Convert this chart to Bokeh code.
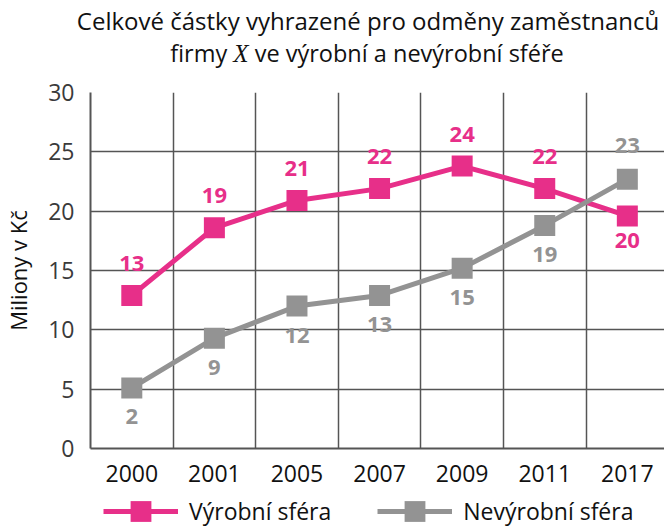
from bokeh.plotting import figure
from bokeh.models import Range1d, FixedTicker, Legend, LegendItem, ColumnDataSource, Div
from bokeh.layouts import column
from bokeh.embed import file_html
from bokeh.resources import INLINE
from bokeh.core.properties import value

years = ["2000", "2001", "2005", "2007", "2009", "2011", "2017"]
vyrobni = [12.9, 18.6, 20.9, 21.9, 23.8, 21.9, 19.6]
vyrobni_labels = ["13", "19", "21", "22", "24", "22", "20"]
nevyrobni = [5.1, 9.3, 12.0, 12.9, 15.2, 18.8, 22.7]
nevyrobni_labels = ["2", "9", "12", "13", "15", "19", "23"]
y_ticks = [0, 5, 10, 15, 20, 25, 30]
series_names = ["Výrobní sféra", "Nevýrobní sféra"]

PINK = "#e72f89"
GRAY = "#939393"
GRID = "#555555"
FONT = "Open Sans"
TITLE_H = 70
MAIN_H = 422
LEG_H = 526 - TITLE_H - MAIN_H

idx = list(range(len(years)))

title = Div(
    text=(
        '<div style="position:relative;width:664px;height:70px;font-family:\'Open Sans\';'
        'line-height:32px;color:#111;white-space:nowrap;">'
        '<div style="position:absolute;left:68px;top:5px;width:600px;text-align:center;font-size:24px;">'
        'Celkové částky vyhrazené pro odměny zaměstnanců</div>'
        '<div style="position:absolute;left:67px;top:37px;width:600px;text-align:center;font-size:23.5px;">'
        'firmy <i style="font-family:\'Liberation Serif\';font-size:25px;">X</i> ve výrobní a nevýrobní sféře</div>'
        '</div>'
    ),
    width=664, height=TITLE_H, margin=0,
)

p = figure(width=664, height=MAIN_H, output_backend="svg", toolbar_location=None,
           x_range=Range1d(-0.5, 6.45), y_range=Range1d(0, 30),
           min_border_left=87, min_border_right=0, min_border_top=92 - TITLE_H,
           min_border_bottom=44, margin=0)
p.outline_line_color = None
p.background_fill_color = "white"

# axes
p.xaxis.ticker = FixedTicker(ticks=idx)
p.xaxis.major_label_overrides = {i: y for i, y in enumerate(years)}
p.yaxis.ticker = FixedTicker(ticks=y_ticks)
for ax in (p.xaxis[0], p.yaxis[0]):
    ax.axis_line_color = GRID
    ax.axis_line_width = 2
    ax.major_tick_line_color = None
    ax.minor_tick_line_color = None
    ax.major_label_text_font = FONT
    ax.major_label_text_font_size = "23px"
p.xaxis.major_label_text_color = "#111111"
p.yaxis.major_label_text_color = "#3a3a3a"
p.xaxis.major_label_standoff = 10
p.yaxis.major_label_standoff = 10
p.yaxis.axis_label = "Miliony v Kč"
p.yaxis.axis_label_text_font = FONT
p.yaxis.axis_label_text_font_size = "22px"
p.yaxis.axis_label_text_font_style = "normal"
p.yaxis.axis_label_text_color = "#111111"
p.yaxis.axis_label_standoff = 12

p.xgrid.ticker = FixedTicker(ticks=[i - 0.5 for i in range(len(years) + 1)])
p.ygrid.ticker = FixedTicker(ticks=y_ticks)
for g in (p.xgrid[0], p.ygrid[0]):
    g.grid_line_color = GRID
    g.grid_line_width = 1.5

# series
src_v = ColumnDataSource(dict(x=idx, y=vyrobni, t=vyrobni_labels,
                              off=[-32 if i < len(idx) - 1 else 25 for i in idx]))
src_n = ColumnDataSource(dict(x=idx, y=nevyrobni, t=nevyrobni_labels,
                              off=[29 if i < len(idx) - 1 else -34 for i in idx]))

p.line("x", "y", source=src_v, line_color=PINK, line_width=5)
p.scatter("x", "y", source=src_v, marker="square", size=21, fill_color=PINK, line_color=None)
p.line("x", "y", source=src_n, line_color=GRAY, line_width=5)
p.scatter("x", "y", source=src_n, marker="square", size=21, fill_color=GRAY, line_color=None)

p.text("x", "y", text="t", source=src_v, y_offset="off", text_align="center", text_baseline="middle",
       text_font=value(FONT), text_font_size="22px", text_font_style="bold", text_color=PINK)
p.text("x", "y", text="t", source=src_n, y_offset="off", text_align="center", text_baseline="middle",
       text_font=value(FONT), text_font_size="22px", text_font_style="bold", text_color=GRAY)

# legend strip (separate figure below, so the legend is not clipped by the main frame)
q = figure(width=664, height=LEG_H, output_backend="svg", toolbar_location=None,
           x_range=Range1d(100, 101), y_range=Range1d(100, 101),
           x_axis_type=None, y_axis_type=None,
           min_border_left=87, min_border_right=0, min_border_top=0, min_border_bottom=0,
           margin=0)
q.outline_line_color = None
items = []
for name, col, src in zip(series_names, [PINK, GRAY], [src_v, src_n]):
    r1 = q.line("x", "y", source=src, line_color=col, line_width=5)
    r2 = q.scatter("x", "y", source=src, marker="square", fill_color=col, line_color=None)
    items.append(LegendItem(label=name, renderers=[r1, r2]))
legend = Legend(items=items, orientation="horizontal", location=(13, -11),
                label_text_font=FONT, label_text_font_size="23px", label_text_color="#111111",
                glyph_width=75, glyph_height=52, spacing=46, label_standoff=11,
                border_line_color=None, background_fill_alpha=0, padding=0, margin=0)
q.add_layout(legend, "center")

layout = column(title, p, q, spacing=0, margin=0)
open("out.html", "w").write(file_html(layout, INLINE))
